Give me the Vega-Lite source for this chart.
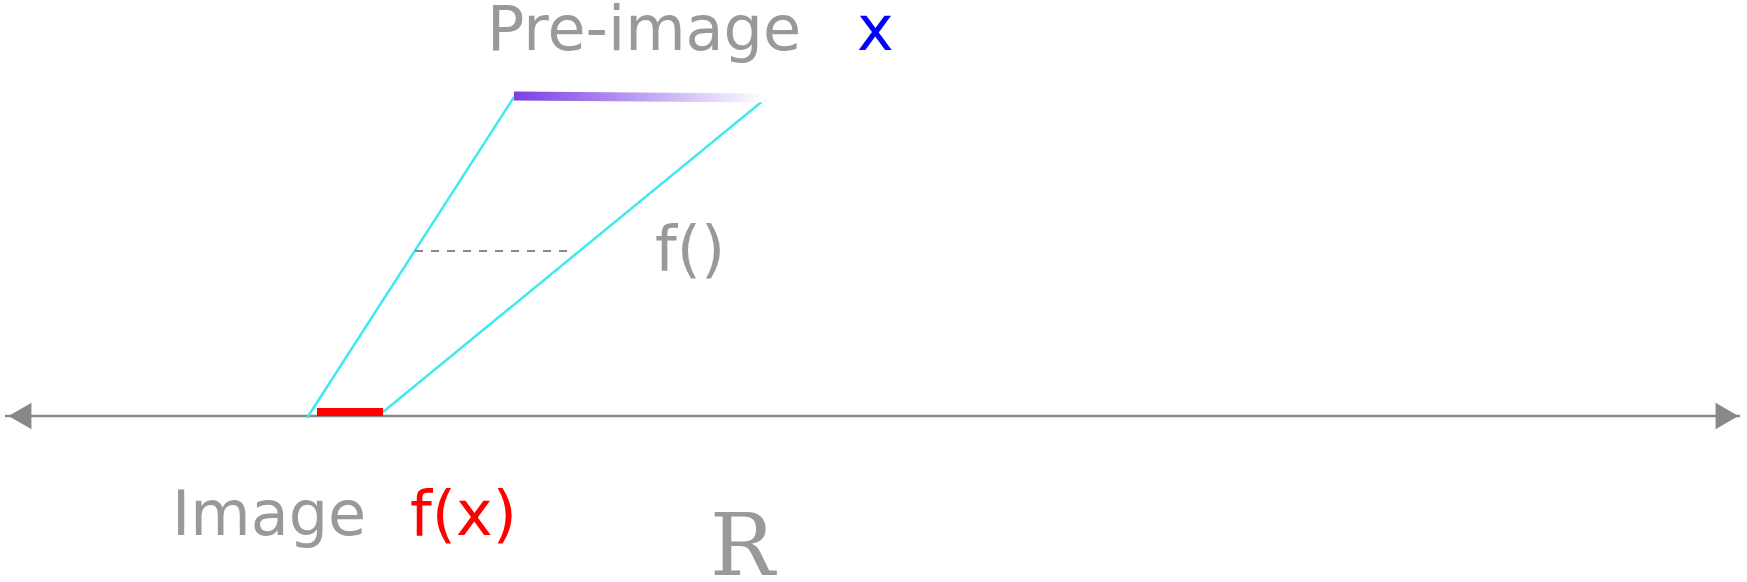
{
  "$schema": "https://vega.github.io/schema/vega-lite/v6.json",
  "width": 1747,
  "height": 582,
  "autosize": {"type": "none"},
  "padding": 0,
  "background": "white",
  "config": {"view": {"stroke": null}},
  "encoding": {
    "x": {"field": "x", "type": "quantitative", "scale": {"domain": [0, 1747], "nice": false, "zero": false}, "axis": null},
    "y": {"field": "y", "type": "quantitative", "scale": {"domain": [582, 0], "nice": false, "zero": false}, "axis": null}
  },
  "layer": [
    {
      "data": {"values": [{"x": 5, "y": 416}, {"x": 1740, "y": 416}]},
      "mark": {"type": "line", "color": "#888888", "strokeWidth": 2.5}
    },
    {
      "data": {"values": [{"x": 20, "y": 416, "shape": "triangle-left"}, {"x": 1727, "y": 416, "shape": "triangle-right"}]},
      "mark": {"type": "point", "filled": true, "color": "#888888", "size": 700, "opacity": 1},
      "encoding": {"shape": {"field": "shape", "type": "nominal", "scale": null}}
    },
    {
      "data": {"values": [
        {"x": 307, "y": 418, "s": "a"}, {"x": 514, "y": 97, "s": "a"},
        {"x": 383, "y": 412, "s": "b"}, {"x": 765, "y": 99, "s": "b"}
      ]},
      "mark": {"type": "line", "color": "#40e8f0", "strokeWidth": 2.5},
      "encoding": {"detail": {"field": "s", "type": "nominal"}}
    },
    {
      "data": {"values": [{"x": 415, "y": 251}, {"x": 572, "y": 251}]},
      "mark": {"type": "line", "color": "#888888", "strokeWidth": 2, "strokeDash": [8, 8]}
    },
    {
      "data": {"values": [{"x": 317, "y": 412}, {"x": 383, "y": 412}]},
      "mark": {"type": "line", "color": "#ff0000", "strokeWidth": 8, "strokeCap": "butt"}
    },
    {
      "data": {"values": [{"x": 514, "y": 96}, {"x": 765, "y": 98}]},
      "mark": {
        "type": "line", "strokeWidth": 9, "strokeCap": "butt",
        "color": {"gradient": "linear", "x1": 0, "y1": 0, "x2": 1, "y2": 0,
          "stops": [{"offset": 0, "color": "#7a3fe6"}, {"offset": 1, "color": "#ffffff"}]}
      }
    },
    {
      "data": {"values": [
        {"x": 487, "y": 50, "t": "Pre-image", "c": "#999999"},
        {"x": 857, "y": 50, "t": "x", "c": "#0000ff"},
        {"x": 655, "y": 270, "t": "f()", "c": "#999999"},
        {"x": 172, "y": 535, "t": "Image", "c": "#999999"},
        {"x": 410, "y": 535, "t": "f(x)", "c": "#ff0000"}
      ]},
      "mark": {"type": "text", "align": "left", "baseline": "alphabetic", "font": "DejaVu Sans", "fontSize": 62},
      "encoding": {
        "text": {"field": "t"},
        "color": {"field": "c", "type": "nominal", "scale": null}
      }
    },
    {
      "data": {"values": [{"x": 710, "y": 575, "t": "R"}]},
      "mark": {"type": "text", "align": "left", "baseline": "alphabetic", "font": "DejaVu Serif", "fontSize": 86, "color": "#999999"},
      "encoding": {"text": {"field": "t"}}
    }
  ]
}
